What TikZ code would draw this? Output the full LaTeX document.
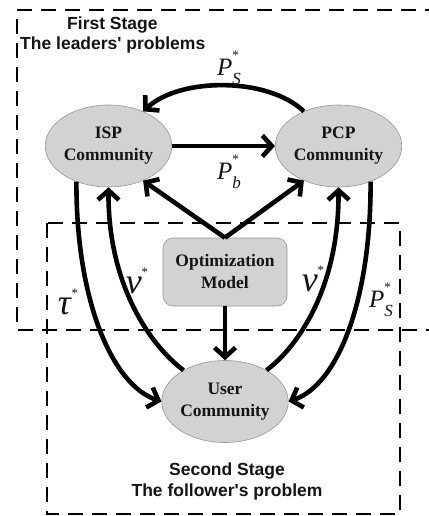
\documentclass[tikz,border=0pt]{standalone}
\usepackage{fontspec}
\setmainfont{Liberation Serif}
\newfontfamily\stagefont{Liberation Sans}
\usetikzlibrary{arrows.meta,shapes.geometric}

\definecolor{nodegray}{RGB}{210,210,210}
\definecolor{rimgray}{RGB}{150,150,150}
\definecolor{inkblack}{RGB}{20,20,20}

% letter with a small star above and a subscript below
\newcommand{\starsub}[2]{\textit{#1}\makebox[0pt][l]{\raisebox{0.62em}{\fontsize{13}{13}\selectfont *}}\raisebox{-0.36em}{\fontsize{17}{17}\selectfont\textit{#2}}\hspace{0.4em}}
% lower-case letter with a small star just above its x-height
\newcommand{\starlow}[1]{\textit{#1}\raisebox{0.45em}{\fontsize{13}{13}\selectfont *}}

\tikzset{
  community/.style={ellipse, draw=rimgray, line width=0.6pt, fill=nodegray,
    minimum width=123pt, minimum height=82pt, inner sep=0pt, align=center,
    text=inkblack, font=\fontsize{17.5}{22}\selectfont\bfseries},
  modelbox/.style={rectangle, rounded corners=10pt, draw=rimgray, line width=0.6pt,
    fill=nodegray, minimum width=124pt, minimum height=68pt, inner sep=0pt,
    align=center, text=inkblack, font=\fontsize{17.5}{22}\selectfont\bfseries},
  flow/.style={draw=black, line width=4.6pt, -{Straight Barb[length=9.5pt,width=21pt]}},
  stagebox/.style={draw=black, line width=2.8pt, dash pattern=on 15pt off 9pt},
  stagetext/.style={inner sep=0pt, align=center, text=inkblack,
    font=\stagefont\fontsize{17.5}{20}\selectfont\bfseries},
  pricelabel/.style={inner sep=0pt, text=inkblack, font=\fontsize{25}{25}\selectfont},
  greeklabel/.style={inner sep=0pt, text=inkblack, font=\fontsize{36}{36}\selectfont},
}

\begin{document}
\begin{tikzpicture}[x=1pt,y=1pt]
\useasboundingbox (0,0) rectangle (428,-516);

% stage frames
\draw[stagebox] (440,-10) -- (17,-10) -- (17,-330) -- (440,-330);
\draw[stagebox] (47,-223) rectangle (400,-514);

\node[stagetext, anchor=west] (first) at (67,-25) {First Stage};
\node[stagetext, anchor=west] (leaders) at (20,-45) {The leaders' problems};
\node[stagetext] (second) at (227,-471) {Second Stage};
\node[stagetext] (follower) at (227,-492) {The follower's problem};

% players and the model
\node[community] (isp) at (108.5,-146) {ISP\\Community};
\node[community] (pcp) at (338.5,-146) {PCP\\Community};
\node[community] (user) at (225,-401.5) {User\\Community};
\node[modelbox] (opt) at (225,-272) {Optimization\\Model};

% leaders' interaction
\draw[flow] (pcp.135) .. controls (268,-77) and (180,-77) .. (isp.45);
\draw[flow] (isp.east) -- (pcp.west);

% model outputs
\draw[flow] (opt.north) -- (isp.-45);
\draw[flow] (opt.north) -- (pcp.-135);
\draw[flow] (opt.south) -- (user.north);

% leaders to follower and back
\draw[flow] (isp.-132) .. controls (76,-300) and (112,-385) .. (user.west);
\draw[flow] (user.143) .. controls (150,-345) and (108,-285) .. (isp.south);
\draw[flow] (user.37) .. controls (300,-345) and (339,-285) .. (pcp.south);
\draw[flow] (pcp.-48) .. controls (371,-300) and (338,-385) .. (user.east);

% flow labels
\node[pricelabel] (psTop) at (229,-68) {\starsub{P}{S}};
\node[pricelabel] (pb) at (229,-172) {\starsub{P}{b}};
\node[pricelabel] (psRight) at (381,-300) {\starsub{P}{S}};
\node[greeklabel] (tau) at (68,-302) {\starlow{τ}};
\node[greeklabel] (nuLeft) at (137,-281) {\starlow{ν}};
\node[greeklabel] (nuRight) at (313,-279) {\starlow{ν}};
\end{tikzpicture}
\end{document}
